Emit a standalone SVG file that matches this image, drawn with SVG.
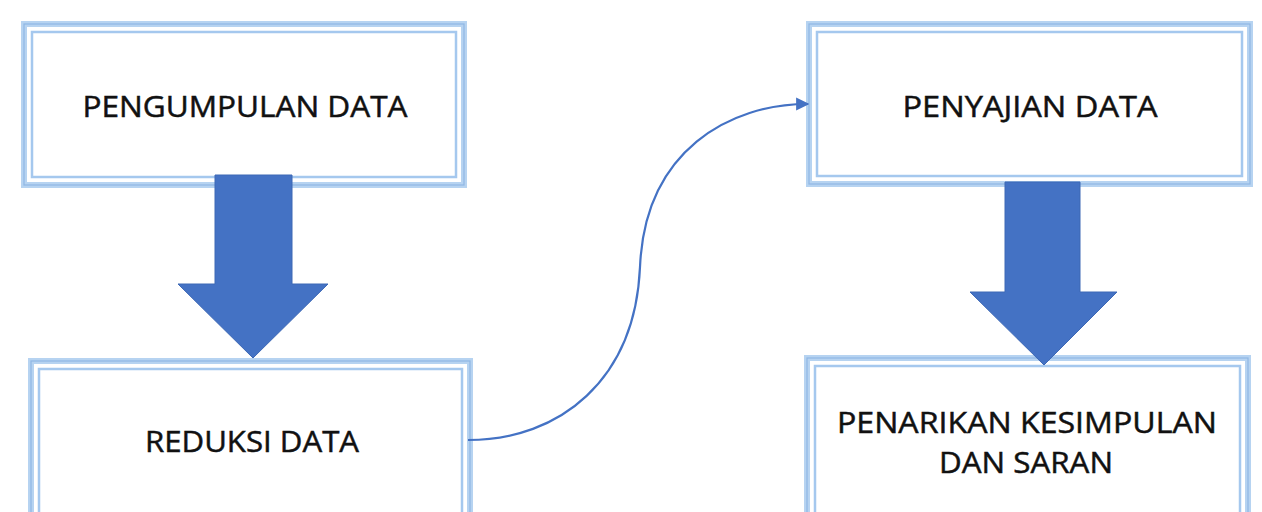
<svg xmlns="http://www.w3.org/2000/svg" width="1262" height="512" viewBox="0 0 1262 512">
<defs>
<style>
.outer{fill:none;stroke:#b6d3f1;stroke-width:6}
.outerline{fill:none;stroke:#8fb7e4;stroke-width:1.2}
.inner{fill:none;stroke:#a5c8ee;stroke-width:2.5}
.fill{fill:#ffffff}
.lbl{font-family:"Open Sans","Liberation Sans",sans-serif;font-size:30px;fill:#111111;stroke:#111111;stroke-width:0.5;text-anchor:middle}
.big{fill:#4472c4;stroke:#3d68b5;stroke-width:1}
.conn{fill:none;stroke:#4472c4;stroke-width:2.2}
</style>
<marker id="ah" viewBox="0 0 10 10" refX="9" refY="5" markerWidth="6" markerHeight="6" orient="auto" markerUnits="strokeWidth">
<path d="M0,0 L10,5 L0,10 z" fill="#4472c4"/>
</marker>
</defs>
<rect width="1262" height="512" fill="#ffffff"/>
<g id="node-pengumpulan">
<rect class="fill" x="24" y="24" width="440" height="161"/>
<rect class="outer" x="24" y="24" width="440" height="161"/>
<rect class="outerline" x="24" y="24" width="440" height="161"/>
<rect class="inner" x="32" y="32" width="424" height="145"/>
<text class="lbl" x="245" y="117" textLength="325" lengthAdjust="spacingAndGlyphs">PENGUMPULAN DATA</text>
</g>
<g id="node-reduksi">
<rect class="fill" x="31" y="361" width="439" height="160"/>
<rect class="outer" x="31" y="361" width="439" height="160"/>
<rect class="outerline" x="31" y="361" width="439" height="160"/>
<rect class="inner" x="39" y="369" width="423" height="150"/>
<text class="lbl" x="252" y="452" textLength="214" lengthAdjust="spacingAndGlyphs">REDUKSI DATA</text>
</g>
<g id="node-penyajian">
<rect class="fill" x="809" y="24" width="441" height="160"/>
<rect class="outer" x="809" y="24" width="441" height="160"/>
<rect class="outerline" x="809" y="24" width="441" height="160"/>
<rect class="inner" x="817" y="32" width="425" height="144"/>
<text class="lbl" x="1030" y="117" textLength="255" lengthAdjust="spacingAndGlyphs">PENYAJIAN DATA</text>
</g>
<g id="node-penarikan">
<rect class="fill" x="807" y="358" width="441" height="160"/>
<rect class="outer" x="807" y="358" width="441" height="160"/>
<rect class="outerline" x="807" y="358" width="441" height="160"/>
<rect class="inner" x="815" y="366" width="425" height="150"/>
<text class="lbl" x="1027" y="433" textLength="380" lengthAdjust="spacingAndGlyphs">PENARIKAN KESIMPULAN</text>
<text class="lbl" x="1026" y="473" textLength="174" lengthAdjust="spacingAndGlyphs">DAN SARAN</text>
</g>
<g id="connectors">
<path class="big" d="M215,175 L292,175 L292,284 L328,284 L253,358 L178,284 L215,284 Z"/>
<path class="big" d="M1005,182 L1080,182 L1080,292 L1117,292 L1044,365 L970,292 L1005,292 Z"/>
<path class="conn" d="M468,440 C560,440 635,380 640,267 C645,150 730,104 808,104" marker-end="url(#ah)"/>
</g>
</svg>
